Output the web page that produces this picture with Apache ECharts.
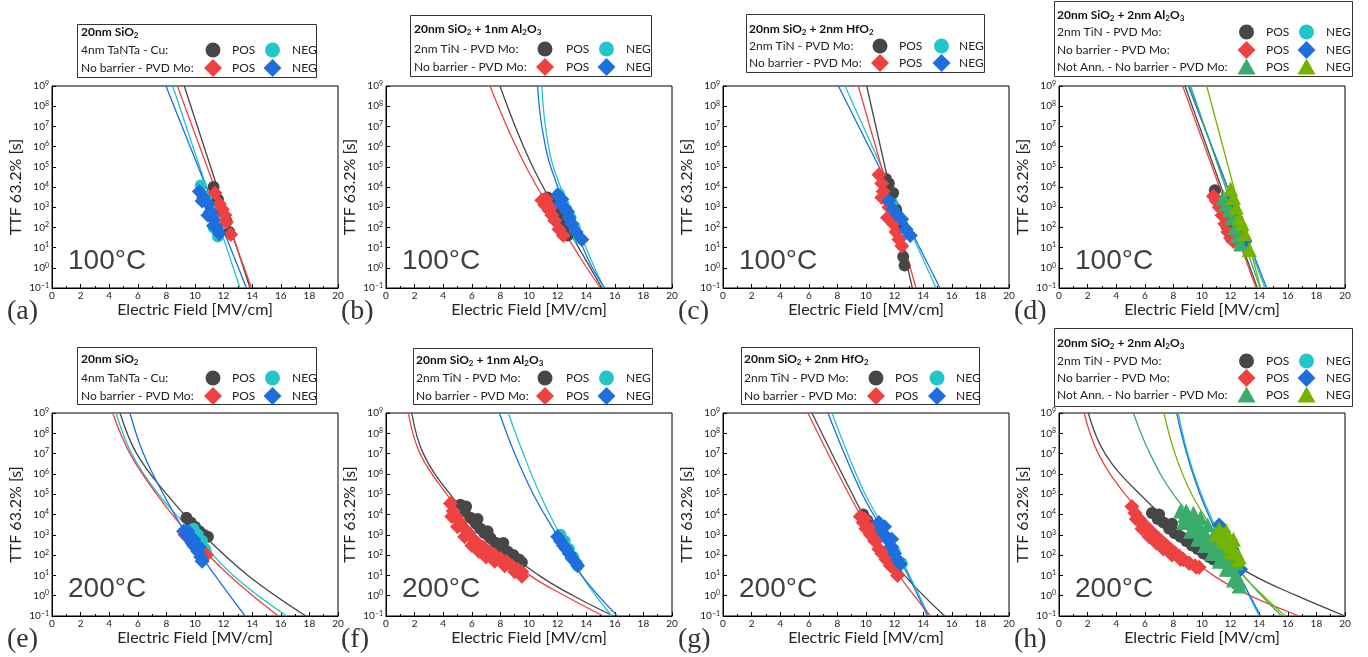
<!DOCTYPE html>
<html>
<head>
<meta charset="utf-8">
<script src="https://cdn.jsdelivr.net/npm/echarts@6.0.0/dist/echarts.min.js"></script>
<style>
  html, body { margin: 0; padding: 0; background: #fff; }
  #chart { width: 1368px; height: 657px; }
</style>
</head>
<body>
<div id="chart"></div>
<script>
// ---------------- measured data: [E (MV/cm), TTF 63.2% (s)] ----------------
// (a) 20nm SiO2, 100°C
const a_circPos = [[11.3,1.0e4],[11.6,2.5e3],[11.9,7e2],[12.2,2e2],[12.4,6e1]];
const a_circNeg = [[10.4,1.2e4],[10.8,3e3],[11.1,8e2],[11.3,1e2],[11.6,3.5e1]];
const a_diaPos  = [[11.4,5e3],[11.7,1.5e3],[11.9,8e2],[12.1,4e2],[12.2,1.8e2],[12.5,4.5e1]];
const a_diaNeg  = [[10.3,6e3],[10.6,3e3],[10.9,1.5e3],[11.1,6e2],[11.3,2.5e2],[11.5,1e2],[11.7,5e1],[10.5,2e3],[10.9,4e2],[11.3,1.2e2]];
const a_circPosFit = [[9.25,1e9],[13.85,0.1]];
const a_circNegFit = [[8.44,1e9],[13.15,0.1]];
const a_diaPosFit  = [[8.77,1e9],[13.96,0.1]];
const a_diaNegFit  = [[7.97,1e9],[13.6,0.1]];

// (b) 20nm SiO2 + 1nm Al2O3, 100°C
const b_circPos = [[11.3,3e3],[11.6,1.5e3],[11.9,6e2],[12.2,2.5e2],[12.5,1e2],[12.7,4e1]];
const b_circNeg = [[12.1,4.5e3],[12.4,1.5e3],[12.6,8e2],[12.9,3e2],[13.2,1e2],[13.5,3e1]];
const b_diaPos  = [[10.9,2.2e3],[11.1,1.3e3],[11.4,7e2],[11.6,4e2],[11.8,2.2e2],[12.1,8e1],[12.4,4e1],[11.2,2.5e3],[11.5,1e3]];
const b_diaNeg  = [[12.0,4e3],[12.2,1.5e3],[12.5,9e2],[12.8,3e2],[13.0,1.5e2],[13.3,6e1],[13.7,2.5e1],[12.3,2.5e3],[12.7,6e2]];
const b_circPosFit = [[7.97,1e9],[10.37,6.9e4],[13.57,7.6],[15.1,0.1]];
const b_circNegFit = [[10.9,1e9],[11.15,1e7],[11.77,6.9e4],[14.34,2.5],[15.25,0.1]];
const b_diaPosFit  = [[7.27,1e9],[9.91,6.9e4],[13.68,2.5],[15.0,0.1]];
const b_diaNegFit  = [[10.6,1e9],[10.9,1e7],[11.59,6.9e4],[14.15,2.5],[15.3,0.1]];

// (c) 20nm SiO2 + 2nm HfO2, 100°C
const c_circPos = [[11.4,2.5e4],[11.6,1.5e4],[11.9,5e3],[12.1,8e2],[12.3,1.5e2],[12.6,3.5],[12.7,1.3]];
const c_circNeg = [[11.8,1.5e3],[12.3,3e2],[12.9,5e1]];
const c_diaPos  = [[10.9,4e4],[11.1,1.5e4],[11.2,6e3],[11.4,2.5e3],[11.6,1e3],[11.8,4e2],[11.9,1.5e2],[12.1,6e1],[12.3,2.5e1],[12.5,1.2e1],[11.1,3e3],[11.5,3e2]];
const c_diaNeg  = [[11.6,2e3],[11.9,8e2],[12.2,4e2],[12.5,2.5e2],[12.8,8e1],[13.1,4e1]];
const c_circPosFit = [[10.05,1e9],[13.24,0.1]];
const c_circNegFit = [[8.53,1e9],[14.9,0.1]];
const c_diaPosFit  = [[9.46,1e9],[13.5,0.1]];
const c_diaNegFit  = [[8.07,1e9],[15.17,0.1]];

// (d) 20nm SiO2 + 2nm Al2O3, 100°C
const d_circPos = [[10.9,7e3],[11.2,2e3],[11.5,4e2],[11.7,1.2e2],[12.0,3e1]];
const d_circNeg = [[11.9,3e3],[12.3,6e2],[12.8,8e1]];
const d_diaPos  = [[10.8,3.5e3],[11.0,2e3],[11.2,1e3],[11.4,4e2],[11.6,1.5e2],[11.8,6e1],[12.0,3e1],[12.2,2e1]];
const d_diaNeg  = [[11.8,3e3],[12.1,1e3],[12.4,3e2],[12.7,8e1],[13.0,2e1]];
const d_triPos  = [[11.5,3e3],[11.7,1.5e3],[11.9,7e2],[12.1,3e2],[12.3,1e2],[12.5,4e1],[12.7,1.5e1]];
const d_triNeg  = [[12.0,8e3],[12.2,3e3],[12.4,1e3],[12.6,3e2],[12.8,1.5e2],[13.0,5e1],[13.3,8]];
const d_circPosFit = [[8.81,1e9],[13.87,0.1]];
const d_circNegFit = [[9.11,1e9],[14.4,0.1]];
const d_diaPosFit  = [[8.65,1e9],[13.78,0.1]];
const d_diaNegFit  = [[9.04,1e9],[14.52,0.1]];
const d_triPosFit  = [[9.2,1e9],[14.06,0.1]];
const d_triNegFit  = [[10.33,1e9],[14.1,0.1]];

// (e) 20nm SiO2, 200°C
const e_circPos = [[9.4,7e3],[9.7,4e3],[10.0,2.5e3],[10.3,1.5e3],[10.6,1e3],[10.9,8e2]];
const e_circNeg = [[9.9,2e3],[10.2,1e3],[10.5,5e2],[10.7,2e2],[10.8,1.2e2]];
const e_diaPos  = [[9.3,1e3],[9.6,6e2],[9.9,3e2],[10.2,2e2],[10.5,1.5e2],[10.8,1e2]];
const e_diaNeg  = [[9.2,1.5e3],[9.4,1e3],[9.6,7e2],[9.8,4e2],[10.0,2.5e2],[10.2,1.5e2],[10.4,8e1],[10.5,5e1],[9.5,1.5e3],[9.9,6e2],[10.3,2.5e2]];
const e_circPosFit = [[4.76,1e9],[5.92,1e7],[8.02,1e5],[10.58,1e3],[13.7,1e1],[17.76,0.1]];
const e_circNegFit = [[4.48,1e9],[5.57,1e7],[7.44,1e5],[10.0,1e3],[12.68,1e1],[16.41,0.1]];
const e_diaPosFit  = [[4.24,1e9],[5.45,1e7],[7.32,1e5],[9.6,1e3],[12.4,1e1],[15.83,0.1]];
const e_diaNegFit  = [[5.45,1e9],[6.39,1e7],[7.79,1e5],[9.42,1e3],[11.4,1e1],[13.5,0.1]];

// (f) 20nm SiO2 + 1nm Al2O3, 200°C
const f_circPos = [[5.2,3e4],[5.5,1.5e4],[5.9,7e3],[6.3,3.5e3],[6.6,2e3],[6.9,1.2e3],[7.3,7e2],[7.7,4e2],[8.1,2.5e2],[8.5,1.5e2],[8.9,1e2],[9.3,6e1],[9.5,4.5e1],[5.6,2.5e4],[6.4,6e3],[7.1,1.5e3],[8.2,4e2]];
const f_circNeg = [[12.2,1e3],[12.5,5e2],[12.8,2e2],[13.1,8e1],[13.4,3e1]];
const f_diaPos  = [[4.5,3.5e4],[4.7,1.5e4],[4.9,8e3],[5.2,4e3],[5.5,2e3],[5.8,1.2e3],[6.1,6e2],[6.4,4e2],[6.8,2.5e2],[7.2,1.5e2],[7.6,1e2],[8.0,7e1],[8.4,5e1],[8.8,3e1],[9.2,2e1],[9.5,1.5e1],
                   [4.6,8e3],[5.0,2.5e3],[5.5,8e2],[6.0,3e2],[6.5,1.5e2],[7.0,8e1],[7.6,5e1],[8.3,3e1],[9.0,1.5e1],[9.5,9]];
const f_diaNeg  = [[12.0,8e2],[12.2,5e2],[12.4,3e2],[12.6,2e2],[12.8,1.2e2],[13.0,7e1],[13.2,5e1],[13.4,3e1]];
const f_circPosFit = [[1.8,1e9],[2.61,1e7],[4.48,1e5],[7.04,1e3],[10.7,1e1],[13.1,1],[15.9,0.1]];
const f_circNegFit = [[8.55,1e9],[9.6,1e7],[10.77,1e5],[12.17,1e3],[13.68,1e1],[15.78,0.1]];
const f_diaPosFit  = [[1.56,1e9],[2.38,1e7],[4.24,1e5],[6.57,1e3],[10.07,1e1],[12.5,1],[15.2,0.1]];
const f_diaNegFit  = [[7.93,1e9],[9.0,1e7],[10.3,1e5],[11.94,1e3],[13.68,1e1],[16.18,0.1]];

// (g) 20nm SiO2 + 2nm HfO2, 200°C
const g_circPos = [[9.8,1e4],[10.1,5e3],[10.5,1.5e3]];
const g_circNeg = [[11.0,3e3],[11.5,7e2],[12.0,1.5e2],[12.5,4e1]];
const g_diaPos  = [[9.6,8e3],[9.8,4e3],[10.0,2e3],[10.3,1e3],[10.6,5e2],[10.9,2e2],[11.1,1.2e2],[11.4,6e1],[11.7,3e1],[12.0,2e1],[12.2,1e1],[9.9,6e3],[10.4,2e3],[10.8,6e2],[11.4,1.5e2]];
const g_diaNeg  = [[10.9,4e3],[11.1,2e3],[11.3,1e3],[11.6,5e2],[11.8,2.5e2],[12.0,1.2e2],[12.2,6e1],[12.4,3.5e1],[11.3,2.5e3],[11.8,6e2]];
const g_circPosFit = [[6.22,1e9],[8.9,1.6e5],[10.6,1e3],[12.7,1e1],[15.5,0.1]];
const g_circNegFit = [[7.62,1e9],[9.8,1.6e5],[11.3,2e3],[12.7,3e1],[14.4,0.1]];
const g_diaPosFit  = [[5.94,1e9],[8.65,1.6e5],[10.4,1e3],[12.3,1e1],[14.5,0.1]];
const g_diaNegFit  = [[7.34,1e9],[9.6,1.6e5],[11.1,2e3],[12.6,3e1],[14.3,0.1]];

// (h) 20nm SiO2 + 2nm Al2O3, 200°C
const h_circPos = [[6.5,1.2e4],[6.9,6e3],[7.3,4e3],[7.7,2e3],[8.1,1.2e3],[8.5,8e2],[8.9,5e2],[9.3,3e2],[9.7,2e2],[10.1,1.2e2],[10.5,8e1],[10.8,6e1],[7.0,1e4],[7.9,3.5e3],[9.5,5e2]];
const h_circNeg = [[11.3,2e3],[11.7,7e2],[12.2,1.5e2]];
const h_diaPos  = [[5.1,2.5e4],[5.3,1.2e4],[5.6,6e3],[5.9,3e3],[6.2,2e3],[6.5,1.2e3],[6.8,8e2],[7.1,5e2],[7.4,3e2],[7.7,2e2],[8.0,1.3e2],[8.4,9e1],[8.7,6e1],[9.1,4e1],[9.5,3e1],[9.8,2.5e1],
                   [5.4,6e3],[5.8,2e3],[6.3,8e2],[6.8,4e2],[7.3,2e2],[7.9,1e2],[8.5,6e1],[9.1,4e1],[9.6,2.5e1]];
const h_diaNeg  = [[11.2,3e3],[11.5,1.5e3],[11.8,6e2],[12.1,2e2],[12.4,6e1],[12.7,2e1]];
const h_triPos  = [[8.5,1.5e4],[8.8,9e3],[9.1,6e3],[9.4,4e3],[9.7,2.5e3],[10.0,1.5e3],[10.3,9e2],[10.6,5e2],[10.9,3e2],[11.2,2e2],[11.5,1e2],[11.8,5e1],[12.1,2e1],[12.4,1e1],[12.6,5],
                   [8.9,1.5e4],[9.4,1.2e4],[9.9,7e3],[10.4,3e3],[10.9,1.2e3],[11.4,5e2],[11.9,1.5e2],[12.4,4e1],
                   [8.7,4e3],[9.2,1.5e3],[9.7,6e2],[10.2,3e2],[10.7,1.2e2],[11.2,5e1],[11.7,2e1],[12.2,6],[12.6,3]];
const h_triNeg  = [[11.2,2e3],[11.4,1.2e3],[11.6,8e2],[11.8,5e2],[12.0,3e2],[12.2,2e2],[12.4,1.2e2],[12.6,8e1],[11.0,1e3],[11.5,5e2],[12.0,1.5e2],[12.5,6e1],[11.7,1.5e3],[12.2,6e2]];
const h_circPosFit = [[2.05,1e9],[3.22,1e7],[5.66,1e5],[8.93,1e3],[13.59,1e1],[16.62,1],[20,0.1]];
const h_circNegFit = [[8.35,1e9],[9.0,1e7],[9.95,1e5],[11.2,1e3],[12.6,1e1],[14.0,0.1]];
const h_diaPosFit  = [[1.75,1e9],[2.75,1e7],[4.62,1e5],[7.18,1e3],[10.79,1e1],[13.36,1],[16.8,0.1]];
const h_diaNegFit  = [[8.23,1e9],[8.93,1e7],[9.86,1e5],[11.1,1e3],[12.6,1e1],[14.1,0.1]];
const h_triPosFit  = [[5.2,1e9],[6.36,1e7],[7.99,1e5],[10.4,1e3],[12.89,1e1],[14.17,1],[15.57,0.1]];
const h_triNegFit  = [[7.34,1e9],[8.11,1e7],[9.28,1e5],[11.03,1e3],[12.89,1e1],[14.29,1],[15.8,0.1]];

// ---------------- texts ----------------
const TEMPS = ['100°C', '200°C'];
const LETTERS = ['(a)', '(b)', '(c)', '(d)', '(e)', '(f)', '(g)', '(h)'];
const X_TITLE = 'Electric Field [MV/cm]';
const Y_TITLE = 'TTF 63.2% [s]';
const STACK_TITLES = [
  '20nm SiO{s|2}',
  '20nm SiO{s|2} + 1nm Al{s|2}O{s|3}',
  '20nm SiO{s|2} + 2nm HfO{s|2}',
  '20nm SiO{s|2} + 2nm Al{s|2}O{s|3}'
];
const ROW_TANTA = '4nm TaNTa - Cu:';
const ROW_TIN = '2nm TiN - PVD Mo:';
const ROW_NOBAR = 'No barrier - PVD Mo:';
const ROW_NOTANN = 'Not Ann. - No barrier - PVD Mo:';

// ---------------- styling ----------------
const MARK = {
  circPos: { symbol: 'circle',   size: 12, color: '#474747' },
  circNeg: { symbol: 'circle',   size: 12, color: '#22C6C8' },
  diaPos:  { symbol: 'diamond',  size: 15, color: '#EE4242' },
  diaNeg:  { symbol: 'diamond',  size: 15, color: '#1F6EDE' },
  triPos:  { symbol: 'triangle', size: 15, color: '#3AAD6D' },
  triNeg:  { symbol: 'triangle', size: 15, color: '#74B400' }
};
const COLS = [52, 386, 723, 1059];
const ROWS = [{ top: 86, height: 202 }, { top: 413, height: 203 }];
const PLOT_W = 286;
const TXT = '#222';
const LATO = 'Lato';

// legend box geometry per panel
const LEGEND_BOX = [
  { box: [77, 24, 239, 53],  ty: 32,  rows: [50, 68],       lx: 81,   ps: 213,  pt: 232,  ns: 272.5, nt: 292 },
  { box: [410, 15, 241, 61], ty: 29,  rows: [49, 67],       lx: 414,  ps: 545,  pt: 566,  ns: 606.5, nt: 626 },
  { box: [746, 14, 238, 58], ty: 29,  rows: [46, 63],       lx: 749,  ps: 880,  pt: 899,  ns: 941.5, nt: 959 },
  { box: [1054, 1, 298, 75], ty: 15,  rows: [32, 50, 67],   lx: 1057, ps: 1246.5, pt: 1266, ns: 1306.5, nt: 1326 },
  { box: [77, 347, 239, 57], ty: 359, rows: [378, 396],     lx: 81,   ps: 213,  pt: 232,  ns: 272.5, nt: 292 },
  { box: [413, 348, 239, 56], ty: 360, rows: [378, 396],    lx: 416,  ps: 545,  pt: 566,  ns: 606.5, nt: 626 },
  { box: [741, 347, 238, 57], ty: 359, rows: [378, 396],    lx: 744,  ps: 876,  pt: 895,  ns: 937,  nt: 956 },
  { box: [1054, 328, 298, 78], ty: 343, rows: [361, 378, 395], lx: 1057, ps: 1246.5, pt: 1266, ns: 1306.5, nt: 1326 }
];

const ROWS_2 = [
  [{ label: ROW_TANTA, pos: 'circPos', neg: 'circNeg' }, { label: ROW_NOBAR, pos: 'diaPos', neg: 'diaNeg' }],
  [{ label: ROW_TIN, pos: 'circPos', neg: 'circNeg' }, { label: ROW_NOBAR, pos: 'diaPos', neg: 'diaNeg' }]
];
const ROWS_3 = [
  { label: ROW_TIN, pos: 'circPos', neg: 'circNeg' },
  { label: ROW_NOBAR, pos: 'diaPos', neg: 'diaNeg' },
  { label: ROW_NOTANN, pos: 'triPos', neg: 'triNeg' }
];

const PANELS = [
  { pts: { circPos: a_circPos, circNeg: a_circNeg, diaPos: a_diaPos, diaNeg: a_diaNeg },
    fits: { circPos: a_circPosFit, circNeg: a_circNegFit, diaPos: a_diaPosFit, diaNeg: a_diaNegFit }, title: 0, rows: ROWS_2[0] },
  { pts: { circPos: b_circPos, circNeg: b_circNeg, diaPos: b_diaPos, diaNeg: b_diaNeg },
    fits: { circPos: b_circPosFit, circNeg: b_circNegFit, diaPos: b_diaPosFit, diaNeg: b_diaNegFit }, title: 1, rows: ROWS_2[1] },
  { pts: { circPos: c_circPos, circNeg: c_circNeg, diaPos: c_diaPos, diaNeg: c_diaNeg },
    fits: { circPos: c_circPosFit, circNeg: c_circNegFit, diaPos: c_diaPosFit, diaNeg: c_diaNegFit }, title: 2, rows: ROWS_2[1] },
  { pts: { circPos: d_circPos, circNeg: d_circNeg, diaPos: d_diaPos, diaNeg: d_diaNeg, triPos: d_triPos, triNeg: d_triNeg },
    fits: { circPos: d_circPosFit, circNeg: d_circNegFit, diaPos: d_diaPosFit, diaNeg: d_diaNegFit, triPos: d_triPosFit, triNeg: d_triNegFit }, title: 3, rows: ROWS_3 },
  { pts: { circPos: e_circPos, circNeg: e_circNeg, diaPos: e_diaPos, diaNeg: e_diaNeg },
    fits: { circPos: e_circPosFit, circNeg: e_circNegFit, diaPos: e_diaPosFit, diaNeg: e_diaNegFit }, title: 0, rows: ROWS_2[0] },
  { pts: { circPos: f_circPos, circNeg: f_circNeg, diaPos: f_diaPos, diaNeg: f_diaNeg },
    fits: { circPos: f_circPosFit, circNeg: f_circNegFit, diaPos: f_diaPosFit, diaNeg: f_diaNegFit }, title: 1, rows: ROWS_2[1] },
  { pts: { circPos: g_circPos, circNeg: g_circNeg, diaPos: g_diaPos, diaNeg: g_diaNeg },
    fits: { circPos: g_circPosFit, circNeg: g_circNegFit, diaPos: g_diaPosFit, diaNeg: g_diaNegFit }, title: 2, rows: ROWS_2[1] },
  { pts: { circPos: h_circPos, circNeg: h_circNeg, diaPos: h_diaPos, diaNeg: h_diaNeg, triPos: h_triPos, triNeg: h_triNeg },
    fits: { circPos: h_circPosFit, circNeg: h_circNegFit, diaPos: h_diaPosFit, diaNeg: h_diaNegFit, triPos: h_triPosFit, triNeg: h_triNegFit }, title: 3, rows: ROWS_3 }
];

const MARK_ORDER = ['circPos', 'circNeg', 'diaPos', 'diaNeg', 'triPos', 'triNeg'];

// ---------------- build option ----------------
const grids = [], xAxes = [], yAxes = [], series = [], graphic = [];

function supLabel(v) {
  const e = Math.round(Math.log10(v));
  return '{b|10}{s|' + (e < 0 ? '\u2212' + (-e) : e) + '}';
}

function legendSymbol(kind, cx, cy) {
  const c = MARK[kind].color;
  if (kind.startsWith('circ')) return { type: 'circle', shape: { cx, cy, r: 7.5 }, style: { fill: c } };
  if (kind.startsWith('dia')) return { type: 'polygon', shape: { points: [[cx, cy - 9], [cx + 9, cy], [cx, cy + 9], [cx - 9, cy]] }, style: { fill: c } };
  return { type: 'polygon', shape: { points: [[cx, cy - 8.5], [cx + 9, cy + 7.5], [cx - 9, cy + 7.5]] }, style: { fill: c } };
}

PANELS.forEach((p, i) => {
  const col = i % 4, row = Math.floor(i / 4);
  const left = COLS[col], top = ROWS[row].top, height = ROWS[row].height;
  grids.push({ left, top, width: PLOT_W, height, show: true, borderColor: '#000', borderWidth: 1, backgroundColor: 'transparent' });

  xAxes.push({
    gridIndex: i, type: 'value', min: 0, max: 20, interval: 2,
    axisLine: { onZero: false, lineStyle: { color: '#000', width: 1 } },
    axisTick: { inside: true, length: 4, lineStyle: { color: '#000' } },
    minorTick: { show: true, splitNumber: 2, length: 2, lineStyle: { color: '#000' } },
    splitLine: { show: false },
    axisLabel: { fontSize: 10, color: TXT, margin: 3, fontFamily: LATO },
    name: X_TITLE, nameLocation: 'middle', nameGap: 14,
    nameTextStyle: { fontSize: 16, color: TXT, fontFamily: LATO }
  });

  yAxes.push({
    gridIndex: i, type: 'log', logBase: 10, min: 0.1, max: 1e9, interval: 1, splitNumber: 10,
    axisLine: { onZero: false, lineStyle: { color: '#000', width: 1 } },
    axisTick: { inside: true, length: 4, lineStyle: { color: '#000' } },
    splitLine: { show: false },
    axisLabel: {
      margin: 3, formatter: supLabel, showMinLabel: true, showMaxLabel: true, hideOverlap: false,
      rich: {
        b: { fontSize: 10, fontFamily: LATO, color: TXT, lineHeight: 12 },
        s: { fontSize: 7, fontFamily: LATO, color: TXT, lineHeight: 7, verticalAlign: 'top' }
      }
    },
    name: Y_TITLE, nameLocation: 'middle', nameGap: 28, nameRotate: 90,
    nameTextStyle: { fontSize: 16, color: TXT, fontFamily: LATO }
  });

  // fitted lines, drawn beneath the markers
  MARK_ORDER.forEach(k => {
    const fit = p.fits[k];
    if (!fit) return;
    series.push({
      type: 'line', xAxisIndex: i, yAxisIndex: i, data: fit,
      symbol: 'none', smooth: fit.length > 2 ? 0.4 : false, silent: true, animation: false,
      lineStyle: { width: 1.3, color: MARK[k].color }, z: 2
    });
  });
  MARK_ORDER.forEach(k => {
    const pts = p.pts[k];
    if (!pts) return;
    series.push({
      type: 'scatter', xAxisIndex: i, yAxisIndex: i, data: pts,
      symbol: MARK[k].symbol, symbolSize: MARK[k].size, animation: false, silent: true,
      itemStyle: { color: MARK[k].color, opacity: 1 }, z: 3
    });
  });

  // temperature tag and panel letter
  graphic.push({
    type: 'text', x: left + 16, y: top + height - 27,
    style: { text: TEMPS[row], fontSize: 28, fontFamily: 'Liberation Sans', fill: '#404040', verticalAlign: 'middle' }
  });
  graphic.push({
    type: 'text', x: left - 45, y: top + height + 24,
    style: { text: LETTERS[i], fontSize: 28, fontFamily: 'Liberation Serif', fill: '#333', verticalAlign: 'middle' }
  });

  // legend box
  const L = LEGEND_BOX[i];
  graphic.push({
    type: 'rect', shape: { x: L.box[0] + 0.5, y: L.box[1] + 0.5, width: L.box[2], height: L.box[3] },
    style: { fill: '#fff', stroke: '#333', lineWidth: 1 }, z: 10
  });
  graphic.push({
    type: 'text', x: L.lx, y: L.ty, z: 11,
    style: {
      text: STACK_TITLES[p.title], fontSize: 12, fontWeight: 'bold', fontFamily: LATO, fill: '#111',
      verticalAlign: 'middle', lineHeight: 14,
      rich: { s: { fontSize: 8, fontWeight: 'bold', fontFamily: LATO, fill: '#111', lineHeight: 8, verticalAlign: 'bottom' } }
    }
  });
  p.rows.forEach((r, j) => {
    const y = L.rows[j];
    graphic.push({ type: 'text', x: L.lx, y, z: 11, style: { text: r.label, fontSize: 12, fontFamily: LATO, fill: TXT, verticalAlign: 'middle' } });
    graphic.push(Object.assign(legendSymbol(r.pos, L.ps, y), { z: 11 }));
    graphic.push({ type: 'text', x: L.pt, y, z: 11, style: { text: 'POS', fontSize: 12, fontFamily: LATO, fill: TXT, verticalAlign: 'middle' } });
    graphic.push(Object.assign(legendSymbol(r.neg, L.ns, y), { z: 11 }));
    graphic.push({ type: 'text', x: L.nt, y, z: 11, style: { text: 'NEG', fontSize: 12, fontFamily: LATO, fill: TXT, verticalAlign: 'middle' } });
  });
});

const chart = echarts.init(document.getElementById('chart'), null, { renderer: 'canvas' });
chart.setOption({
  backgroundColor: '#fff',
  animation: false,
  grid: grids, xAxis: xAxes, yAxis: yAxes, series, graphic
});
</script>
</body>
</html>
